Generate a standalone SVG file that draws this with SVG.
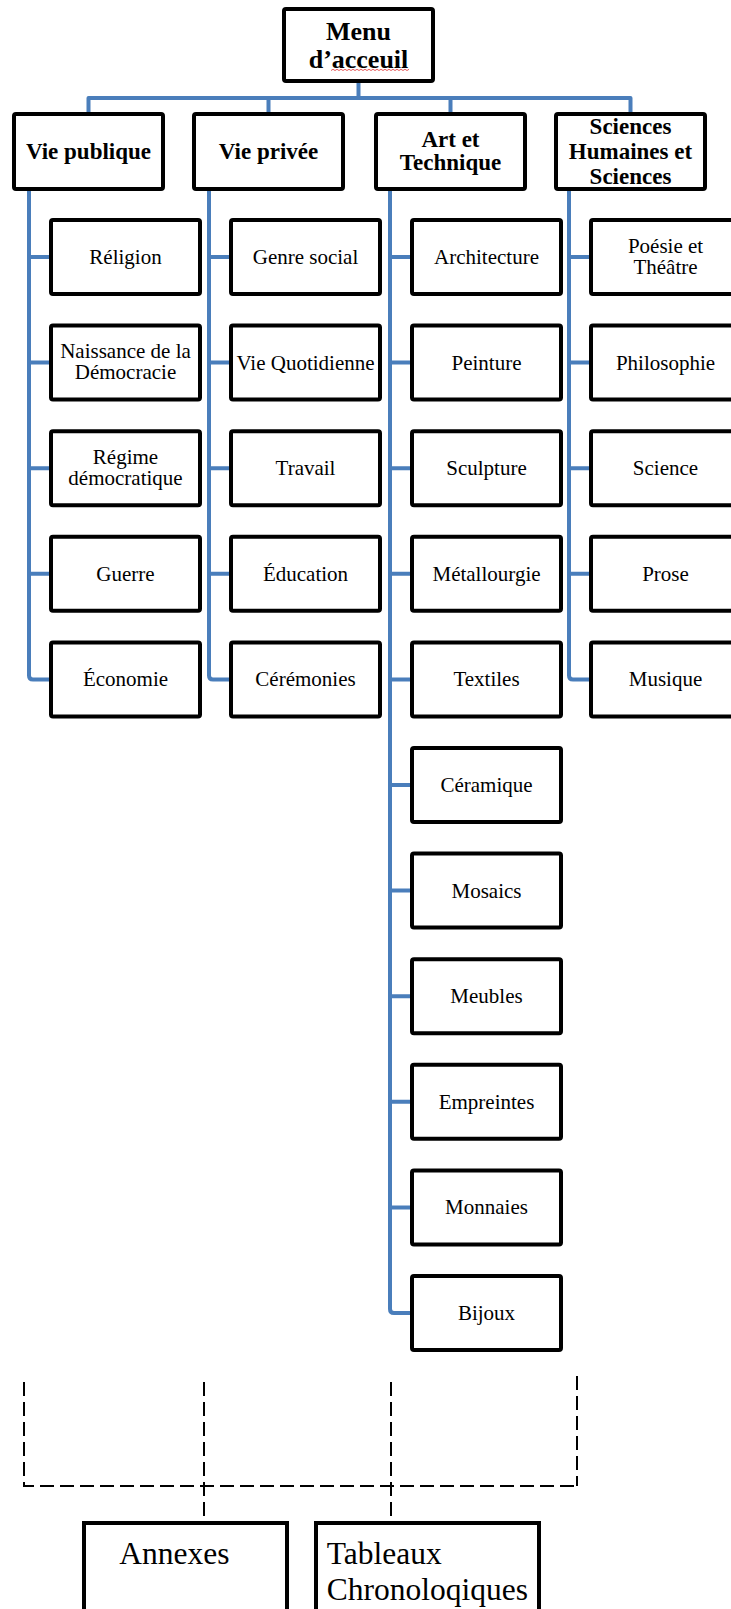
<svg xmlns="http://www.w3.org/2000/svg" width="731" height="1609" viewBox="0 0 731 1609">
<style>
.box{fill:#fff;stroke:#000;stroke-width:4;}
.conn{fill:none;stroke:#4a7ebb;stroke-width:4;stroke-linejoin:round;}
.dash{fill:none;stroke:#000;stroke-width:2;stroke-dasharray:14 6;}
.t{font-family:"Liberation Serif","Times New Roman",serif;font-size:21px;fill:#000;text-anchor:middle;}
.b{font-family:"Liberation Serif","Times New Roman",serif;font-size:23px;font-weight:bold;fill:#000;text-anchor:middle;}
.m{font-family:"Liberation Serif","Times New Roman",serif;font-size:26px;font-weight:bold;fill:#000;text-anchor:middle;}
.big{font-family:"Liberation Serif","Times New Roman",serif;font-size:31.5px;fill:#000;}
</style>
<rect width="731" height="1609" fill="#fff"/>
<g id="connectors">
<path class="conn" d="M358.5,83 V98 M88.5,112 V98 H630.5 V112 M268.5,98 V112 M450.5,98 V112"/>
<path class="conn" d="M29,191 V675.4 Q29,679.4 33,679.4 H49 M29,257 H49 M29,362.6 H49 M29,468.2 H49 M29,573.8 H49"/>
<path class="conn" d="M209,191 V675.4 Q209,679.4 213,679.4 H229 M209,257 H229 M209,362.6 H229 M209,468.2 H229 M209,573.8 H229"/>
<path class="conn" d="M390,191 V1309 Q390,1313 394,1313 H410 M390,257 H410 M390,362.6 H410 M390,468.2 H410 M390,573.8 H410 M390,679.4 H410 M390,785 H410 M390,890.6 H410 M390,996.2 H410 M390,1101.8 H410 M390,1207.4 H410"/>
<path class="conn" d="M569,191 V675.4 Q569,679.4 573,679.4 H589 M569,257 H589 M569,362.6 H589 M569,468.2 H589 M569,573.8 H589"/>
<path class="dash" d="M24,1382 V1486 H577"/>
<path class="dash" d="M577,1376 V1486"/>
<path class="dash" d="M204,1382 V1516"/>
<path class="dash" d="M391,1382 V1516"/>
</g>
<g id="menu">
<rect class="box" x="284" y="9" width="149" height="72" rx="2"/>
<text class="m" x="358.5" y="40">Menu</text>
<text class="m" x="358.5" y="68">d’acceuil</text>
<path d="M331,70.5 l2,-1.2 l2,1.2 l2,-1.2 l2,1.2 l2,-1.2 l2,1.2 l2,-1.2 l2,1.2 l2,-1.2 l2,1.2 l2,-1.2 l2,1.2 l2,-1.2 l2,1.2 l2,-1.2 l2,1.2 l2,-1.2 l2,1.2 l2,-1.2 l2,1.2 l2,-1.2 l2,1.2 l2,-1.2 l2,1.2 l2,-1.2 l2,1.2 l2,-1.2 l2,1.2 l2,-1.2 l2,1.2 l2,-1.2 l2,1.2 l2,-1.2 l2,1.2 l2,-1.2 l2,1.2 l2,-1.2 l2,1.2 l2,-1.2" fill="none" stroke="#e03030" stroke-width="0.8"/>
</g>
<g id="vie-publique"><rect class="box" x="14" y="114" width="149" height="75" rx="2"/><text class="b" x="88.5" y="159">Vie publique</text></g>
<g id="vie-privee"><rect class="box" x="194" y="114" width="149" height="75" rx="2"/><text class="b" x="268.5" y="159">Vie privée</text></g>
<g id="art-technique"><rect class="box" x="376" y="114" width="149" height="75" rx="2"/><text class="b" x="450.5" y="146.5">Art et</text><text class="b" x="450.5" y="170">Technique</text></g>
<g id="sciences"><rect class="box" x="556" y="114" width="149" height="75" rx="2"/><text class="b" x="630.5" y="134">Sciences</text><text class="b" x="630.5" y="159">Humaines et</text><text class="b" x="630.5" y="183.5">Sciences</text></g>

<g id="religion"><rect class="box" x="51" y="220" width="149" height="74" rx="2"/><text class="t" x="125.5" y="264">Réligion</text></g>
<g id="naissance"><rect class="box" x="51" y="325.6" width="149" height="74" rx="2"/><text class="t" x="125.5" y="358">Naissance de la</text><text class="t" x="125.5" y="379">Démocracie</text></g>
<g id="regime"><rect class="box" x="51" y="431.2" width="149" height="74" rx="2"/><text class="t" x="125.5" y="463.7">Régime</text><text class="t" x="125.5" y="484.7">démocratique</text></g>
<g id="guerre"><rect class="box" x="51" y="536.8" width="149" height="74" rx="2"/><text class="t" x="125.5" y="580.8">Guerre</text></g>
<g id="economie"><rect class="box" x="51" y="642.4" width="149" height="74" rx="2"/><text class="t" x="125.5" y="686.4">Économie</text></g>

<g id="genre-social"><rect class="box" x="231" y="220" width="149" height="74" rx="2"/><text class="t" x="305.5" y="264">Genre social</text></g>
<g id="vie-quotidienne"><rect class="box" x="231" y="325.6" width="149" height="74" rx="2"/><text class="t" x="305.5" y="369.6">Vie Quotidienne</text></g>
<g id="travail"><rect class="box" x="231" y="431.2" width="149" height="74" rx="2"/><text class="t" x="305.5" y="475.2">Travail</text></g>
<g id="education"><rect class="box" x="231" y="536.8" width="149" height="74" rx="2"/><text class="t" x="305.5" y="580.8">Éducation</text></g>
<g id="ceremonies"><rect class="box" x="231" y="642.4" width="149" height="74" rx="2"/><text class="t" x="305.5" y="686.4">Cérémonies</text></g>

<g id="architecture"><rect class="box" x="412" y="220" width="149" height="74" rx="2"/><text class="t" x="486.5" y="264">Architecture</text></g>
<g id="peinture"><rect class="box" x="412" y="325.6" width="149" height="74" rx="2"/><text class="t" x="486.5" y="369.6">Peinture</text></g>
<g id="sculpture"><rect class="box" x="412" y="431.2" width="149" height="74" rx="2"/><text class="t" x="486.5" y="475.2">Sculpture</text></g>
<g id="metallourgie"><rect class="box" x="412" y="536.8" width="149" height="74" rx="2"/><text class="t" x="486.5" y="580.8">Métallourgie</text></g>
<g id="textiles"><rect class="box" x="412" y="642.4" width="149" height="74" rx="2"/><text class="t" x="486.5" y="686.4">Textiles</text></g>
<g id="ceramique"><rect class="box" x="412" y="748" width="149" height="74" rx="2"/><text class="t" x="486.5" y="792">Céramique</text></g>
<g id="mosaics"><rect class="box" x="412" y="853.6" width="149" height="74" rx="2"/><text class="t" x="486.5" y="897.6">Mosaics</text></g>
<g id="meubles"><rect class="box" x="412" y="959.2" width="149" height="74" rx="2"/><text class="t" x="486.5" y="1003.2">Meubles</text></g>
<g id="empreintes"><rect class="box" x="412" y="1064.8" width="149" height="74" rx="2"/><text class="t" x="486.5" y="1108.8">Empreintes</text></g>
<g id="monnaies"><rect class="box" x="412" y="1170.4" width="149" height="74" rx="2"/><text class="t" x="486.5" y="1214.4">Monnaies</text></g>
<g id="bijoux"><rect class="box" x="412" y="1276" width="149" height="74" rx="2"/><text class="t" x="486.5" y="1320">Bijoux</text></g>

<g id="poesie"><rect class="box" x="591" y="220" width="149" height="74" rx="2"/><text class="t" x="665.5" y="252.5">Poésie et</text><text class="t" x="665.5" y="273.5">Théâtre</text></g>
<g id="philosophie"><rect class="box" x="591" y="325.6" width="149" height="74" rx="2"/><text class="t" x="665.5" y="369.6">Philosophie</text></g>
<g id="science"><rect class="box" x="591" y="431.2" width="149" height="74" rx="2"/><text class="t" x="665.5" y="475.2">Science</text></g>
<g id="prose"><rect class="box" x="591" y="536.8" width="149" height="74" rx="2"/><text class="t" x="665.5" y="580.8">Prose</text></g>
<g id="musique"><rect class="box" x="591" y="642.4" width="149" height="74" rx="2"/><text class="t" x="665.5" y="686.4">Musique</text></g>

<g id="annexes"><rect class="box" x="84" y="1523" width="203" height="110"/><text class="big" x="119.3" y="1564">Annexes</text></g>
<g id="tableaux"><rect class="box" x="316" y="1523" width="223" height="110"/><text class="big" x="326.7" y="1564">Tableaux</text><text class="big" x="326.7" y="1600">Chronoloqiques</text></g>
</svg>
